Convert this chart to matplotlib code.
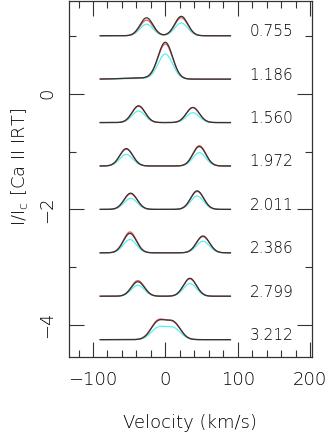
import numpy as np
import matplotlib
matplotlib.use("Agg")
import matplotlib.pyplot as plt

# rotational phases and vertical offsets of each Ca II IRT profile
phases = ["0.755", "1.186", "1.560", "1.972", "2.011", "2.386", "2.799", "3.212"]
offsets = [1.0, 0.25, -0.5, -1.25, -2.0, -2.75, -3.5, -4.25]

# emission components (km/s, relative intensity)
centres = [[-26, 22], [0, -35], [-37, 38], [-54, 47], [-48, 44], [-49, 52], [-38, 34], [-10, 11]]
widths = [[9, 9], [10, 25], [9, 9], [9, 9], [9, 9], [9, 9], [9, 9], [10, 10]]
obs_amp = [[0.31, 0.335], [0.63, 0.02], [0.29, 0.26], [0.30, 0.335], [0.28, 0.32],
           [0.335, 0.29], [0.25, 0.31], [0.30, 0.29]]
fit_amp = [[0.27, 0.31], [0.60, 0.02], [0.28, 0.26], [0.29, 0.35], [0.27, 0.31],
           [0.36, 0.28], [0.27, 0.30], [0.315, 0.28]]
cyan_amp = [[0.20, 0.22], [0.43, 0.01], [0.20, 0.17], [0.20, 0.23], [0.19, 0.23],
            [0.23, 0.20], [0.19, 0.22], [0.20, 0.195]]

velocity = np.arange(-90, 90.25, 0.5)


def profile(cen, amp, wid):
    y = np.zeros_like(velocity)
    for c, a, w in zip(cen, amp, wid):
        y += a * np.exp(-0.5 * ((velocity - c) / w) ** 2)
    return y


plt.rcParams['font.family'] = ['DejaVu Sans']
plt.rcParams['font.weight'] = 'light'
fig = plt.figure(figsize=(3.3, 4.38), dpi=100)
ax = fig.add_axes([69 / 330, 1 - 357 / 438, 243 / 330, 356 / 438])

for i, ph in enumerate(phases):
    off = offsets[i]
    ax.plot(velocity, off + profile(centres[i], cyan_amp[i], widths[i]),
            color='#55f2f2', lw=0.9)
    ax.plot(velocity, off + profile(centres[i], fit_amp[i], widths[i]),
            color='#e85858', lw=0.9)
    ax.plot(velocity, off + profile(centres[i], obs_amp[i], widths[i]),
            color='#333333', lw=0.9)
    ax.text(147, off + 0.07, ph, ha='center', va='center', fontsize=11, color='black')

ax.set_xlim(-133.2, 202.8)
ax.set_ylim(-4.55, 1.6)
ax.set_xticks([-100, 0, 100, 200])
ax.set_xticks(np.arange(-120, 201, 20), minor=True)
ax.set_yticks([-4, -2, 0])
ax.set_yticks([-3, -1, 1], minor=True)
ax.tick_params(which='both', direction='in', top=True, right=True,
               colors='#333333', labelcolor='black', labelsize=13, width=0.8)
ax.tick_params(which='major', length=11)
ax.tick_params(which='minor', length=5)
ax.tick_params(axis='x', pad=10)
ax.tick_params(axis='y', pad=9)
for lab in ax.get_yticklabels():
    lab.set_rotation(90)
    lab.set_va('center')
for sp in ax.spines.values():
    sp.set_color('#333333')
    sp.set_linewidth(0.9)

fig.text(190 / 330, 1 - 423 / 438, "Velocity (km/s)", ha='center', va='center',
         fontsize=13, color='black')
fig.text(20 / 330, 1 - 167 / 438, r"I/I$_{\rm c}$ [Ca II IRT]", ha='center', va='center',
         rotation=90, fontsize=13, color='black')

fig.savefig("out.png", dpi=100)
